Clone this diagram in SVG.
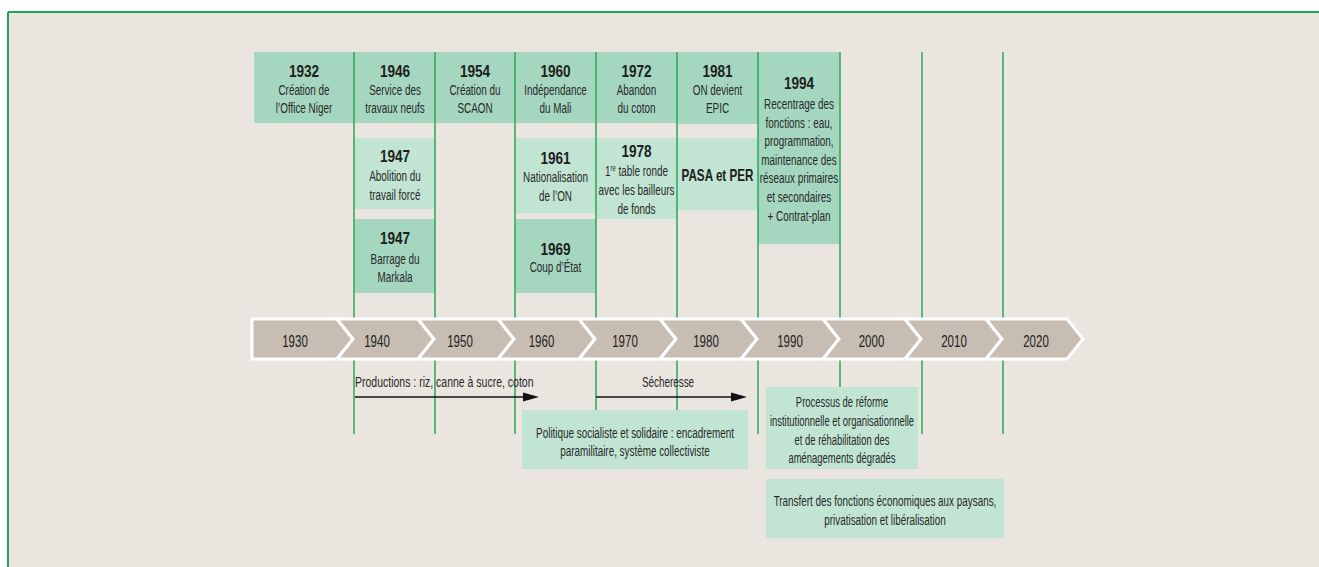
<svg xmlns="http://www.w3.org/2000/svg" width="1319" height="567" viewBox="0 0 1319 567">
<style>
.dk{fill:#a5d6bf}
.lt{fill:#c1e4d3}
.grid line{stroke:#2aa75a;stroke-width:1.5}
.tl polygon{fill:#c8bdb2;stroke:#fff;stroke-width:3;stroke-linejoin:miter}
text{font-family:'Liberation Sans',Arial,sans-serif;text-anchor:middle}
.y{font-size:17px;font-weight:bold;fill:#1e1e1e}
.b{font-size:15px;fill:#2a2a2a}
.d{font-size:16px;fill:#222}
.arr line{stroke:#111;stroke-width:1.5}
</style>
<defs>
<marker id="ah" viewBox="0 0 16 10" refX="0" refY="5" markerUnits="userSpaceOnUse" markerWidth="16" markerHeight="10" orient="auto"><path d="M0,0.5 L16,5 L0,9.5 z" fill="#111"/></marker>
</defs>
<rect x="8" y="12" width="1311" height="555" fill="#eae5df"/>
<line x1="8" y1="12" x2="1319" y2="12" stroke="#1fa851" stroke-width="2"/>
<line x1="8" y1="12" x2="8" y2="567" stroke="#1fa851" stroke-width="2"/>

<g id="n1932"><rect class="dk" x="254" y="52" width="100" height="71"/>
<text class="y" transform="translate(304,76.5) scale(0.8,1)">1932</text>
<text class="b" transform="translate(304,94.5) scale(0.66,1)"><tspan x="0">Création de</tspan><tspan x="0" dy="19">l’Office Niger</tspan></text></g>
<g id="n1946"><rect class="dk" x="354" y="52" width="81" height="71"/>
<text class="y" transform="translate(395,76.5) scale(0.8,1)">1946</text>
<text class="b" transform="translate(395,94.5) scale(0.66,1)"><tspan x="0">Service des</tspan><tspan x="0" dy="19">travaux neufs</tspan></text></g>
<g id="n1954"><rect class="dk" x="435" y="52" width="80" height="71"/>
<text class="y" transform="translate(475,76.5) scale(0.8,1)">1954</text>
<text class="b" transform="translate(475,94.5) scale(0.66,1)"><tspan x="0">Création du</tspan><tspan x="0" dy="19">SCAON</tspan></text></g>
<g id="n1960"><rect class="dk" x="515" y="52" width="81" height="71"/>
<text class="y" transform="translate(555.5,76.5) scale(0.8,1)">1960</text>
<text class="b" transform="translate(555.5,94.5) scale(0.66,1)"><tspan x="0">Indépendance</tspan><tspan x="0" dy="19">du Mali</tspan></text></g>
<g id="n1972"><rect class="dk" x="596" y="52" width="81" height="71"/>
<text class="y" transform="translate(636.5,76.5) scale(0.8,1)">1972</text>
<text class="b" transform="translate(636.5,94.5) scale(0.66,1)"><tspan x="0">Abandon</tspan><tspan x="0" dy="19">du coton</tspan></text></g>
<g id="n1981"><rect class="dk" x="677" y="52" width="81" height="72"/>
<text class="y" transform="translate(717.5,76.5) scale(0.8,1)">1981</text>
<text class="b" transform="translate(717.5,94.5) scale(0.66,1)"><tspan x="0">ON devient</tspan><tspan x="0" dy="19">EPIC</tspan></text></g>
<g id="n1994"><rect class="dk" x="758" y="52" width="82" height="192"/>
<text class="y" transform="translate(799,89) scale(0.8,1)">1994</text>
<text class="b" transform="translate(799,109) scale(0.66,1)"><tspan x="0">Recentrage des</tspan><tspan x="0" dy="18.6">fonctions : eau,</tspan><tspan x="0" dy="18.6">programmation,</tspan><tspan x="0" dy="18.6">maintenance des</tspan><tspan x="0" dy="18.6">réseaux primaires</tspan><tspan x="0" dy="18.6">et secondaires</tspan><tspan x="0" dy="18.6">+ Contrat-plan</tspan></text></g>

<g id="n1947a"><rect class="lt" x="354" y="138" width="81" height="71"/>
<text class="y" transform="translate(395,162) scale(0.8,1)">1947</text>
<text class="b" transform="translate(395,181) scale(0.66,1)"><tspan x="0">Abolition du</tspan><tspan x="0" dy="18.6">travail forcé</tspan></text></g>
<g id="n1947b"><rect class="dk" x="354" y="219" width="81" height="74"/>
<text class="y" transform="translate(395,244) scale(0.8,1)">1947</text>
<text class="b" transform="translate(395,263.5) scale(0.66,1)"><tspan x="0">Barrage du</tspan><tspan x="0" dy="18.6">Markala</tspan></text></g>
<g id="n1961"><rect class="lt" x="515" y="138" width="81" height="75"/>
<text class="y" transform="translate(555.5,164) scale(0.8,1)">1961</text>
<text class="b" transform="translate(555.5,182) scale(0.66,1)"><tspan x="0">Nationalisation</tspan><tspan x="0" dy="19">de l’ON</tspan></text></g>
<g id="n1969"><rect class="dk" x="515" y="219" width="81" height="74"/>
<text class="y" transform="translate(555.5,255) scale(0.8,1)">1969</text>
<text class="b" transform="translate(555.5,272) scale(0.66,1)">Coup d’État</text></g>
<g id="n1978"><rect class="lt" x="596" y="138" width="81" height="81"/>
<text class="y" transform="translate(636.5,156.5) scale(0.8,1)">1978</text>
<text class="b" transform="translate(636.5,176) scale(0.66,1)"><tspan x="0">1<tspan font-size="9" dy="-5">re</tspan><tspan dy="5"> table ronde</tspan></tspan><tspan x="0" dy="19">avec les bailleurs</tspan><tspan x="0" dy="18.6">de fonds</tspan></text></g>
<g id="npasa"><rect class="lt" x="677" y="138" width="81" height="72"/>
<text class="y" style="font-size:16px" transform="translate(717.5,181) scale(0.73,1)">PASA et PER</text></g>

<g class="grid" id="grid">
<line x1="354" y1="52" x2="354" y2="434"/>
<line x1="435" y1="52" x2="435" y2="434"/>
<line x1="515" y1="52" x2="515" y2="434"/>
<line x1="596" y1="52" x2="596" y2="434"/>
<line x1="677" y1="52" x2="677" y2="434"/>
<line x1="758" y1="52" x2="758" y2="434"/>
<line x1="840" y1="52" x2="840" y2="434"/>
<line x1="922" y1="52" x2="922" y2="434"/>
<line x1="1003" y1="52" x2="1003" y2="434"/>
</g>

<g class="tl" id="timeline">
<polygon points="252,319 337,319 353,339 337,359 252,359"/>
<polygon points="337,319 418,319 434,339 418,359 337,359 353,339"/>
<polygon points="418,319 498,319 514,339 498,359 418,359 434,339"/>
<polygon points="498,319 579,319 595,339 579,359 498,359 514,339"/>
<polygon points="579,319 660,319 676,339 660,359 579,359 595,339"/>
<polygon points="660,319 741,319 757,339 741,359 660,359 676,339"/>
<polygon points="741,319 823,319 839,339 823,359 741,359 757,339"/>
<polygon points="823,319 905,319 921,339 905,359 823,359 839,339"/>
<polygon points="905,319 986,319 1002,339 986,359 905,359 921,339"/>
<polygon points="986,319 1067,319 1083,339 1067,359 986,359 1002,339"/>
<text class="d" transform="translate(295,346.5) scale(0.72,1)">1930</text>
<text class="d" transform="translate(377,346.5) scale(0.72,1)">1940</text>
<text class="d" transform="translate(460,346.5) scale(0.72,1)">1950</text>
<text class="d" transform="translate(541.5,346.5) scale(0.72,1)">1960</text>
<text class="d" transform="translate(625,346.5) scale(0.72,1)">1970</text>
<text class="d" transform="translate(706,346.5) scale(0.72,1)">1980</text>
<text class="d" transform="translate(790,346.5) scale(0.72,1)">1990</text>
<text class="d" transform="translate(871.5,346.5) scale(0.72,1)">2000</text>
<text class="d" transform="translate(954,346.5) scale(0.72,1)">2010</text>
<text class="d" transform="translate(1036,346.5) scale(0.72,1)">2020</text>
</g>

<g class="arr" id="connectors">
<line x1="355" y1="397" x2="523" y2="397" marker-end="url(#ah)"/>
<line x1="596" y1="397" x2="731" y2="397" marker-end="url(#ah)"/>
<text class="b" style="text-anchor:start" transform="translate(355,387) scale(0.7,1)">Productions : riz, canne à sucre, coton</text>
<text class="b" transform="translate(668,387) scale(0.66,1)">Sécheresse</text>
</g>

<g id="npolitique"><rect class="lt" x="522" y="410" width="226" height="59"/>
<text class="b" transform="translate(635,437.5) scale(0.66,1)"><tspan x="0">Politique socialiste et solidaire : encadrement</tspan><tspan x="0" dy="18.6">paramilitaire, système collectiviste</tspan></text></g>
<g id="nprocessus"><rect class="lt" x="766" y="387" width="152" height="82"/>
<text class="b" transform="translate(842,407) scale(0.63,1)"><tspan x="0">Processus de réforme</tspan><tspan x="0" dy="18.8">institutionnelle et organisationnelle</tspan><tspan x="0" dy="18.8">et de réhabilitation des</tspan><tspan x="0" dy="18.8">aménagements dégradés</tspan></text></g>
<g id="ntransfert"><rect class="lt" x="766" y="479" width="238" height="59"/>
<text class="b" transform="translate(885,506) scale(0.66,1)"><tspan x="0">Transfert des fonctions économiques aux paysans,</tspan><tspan x="0" dy="19">privatisation et libéralisation</tspan></text></g>
</svg>
